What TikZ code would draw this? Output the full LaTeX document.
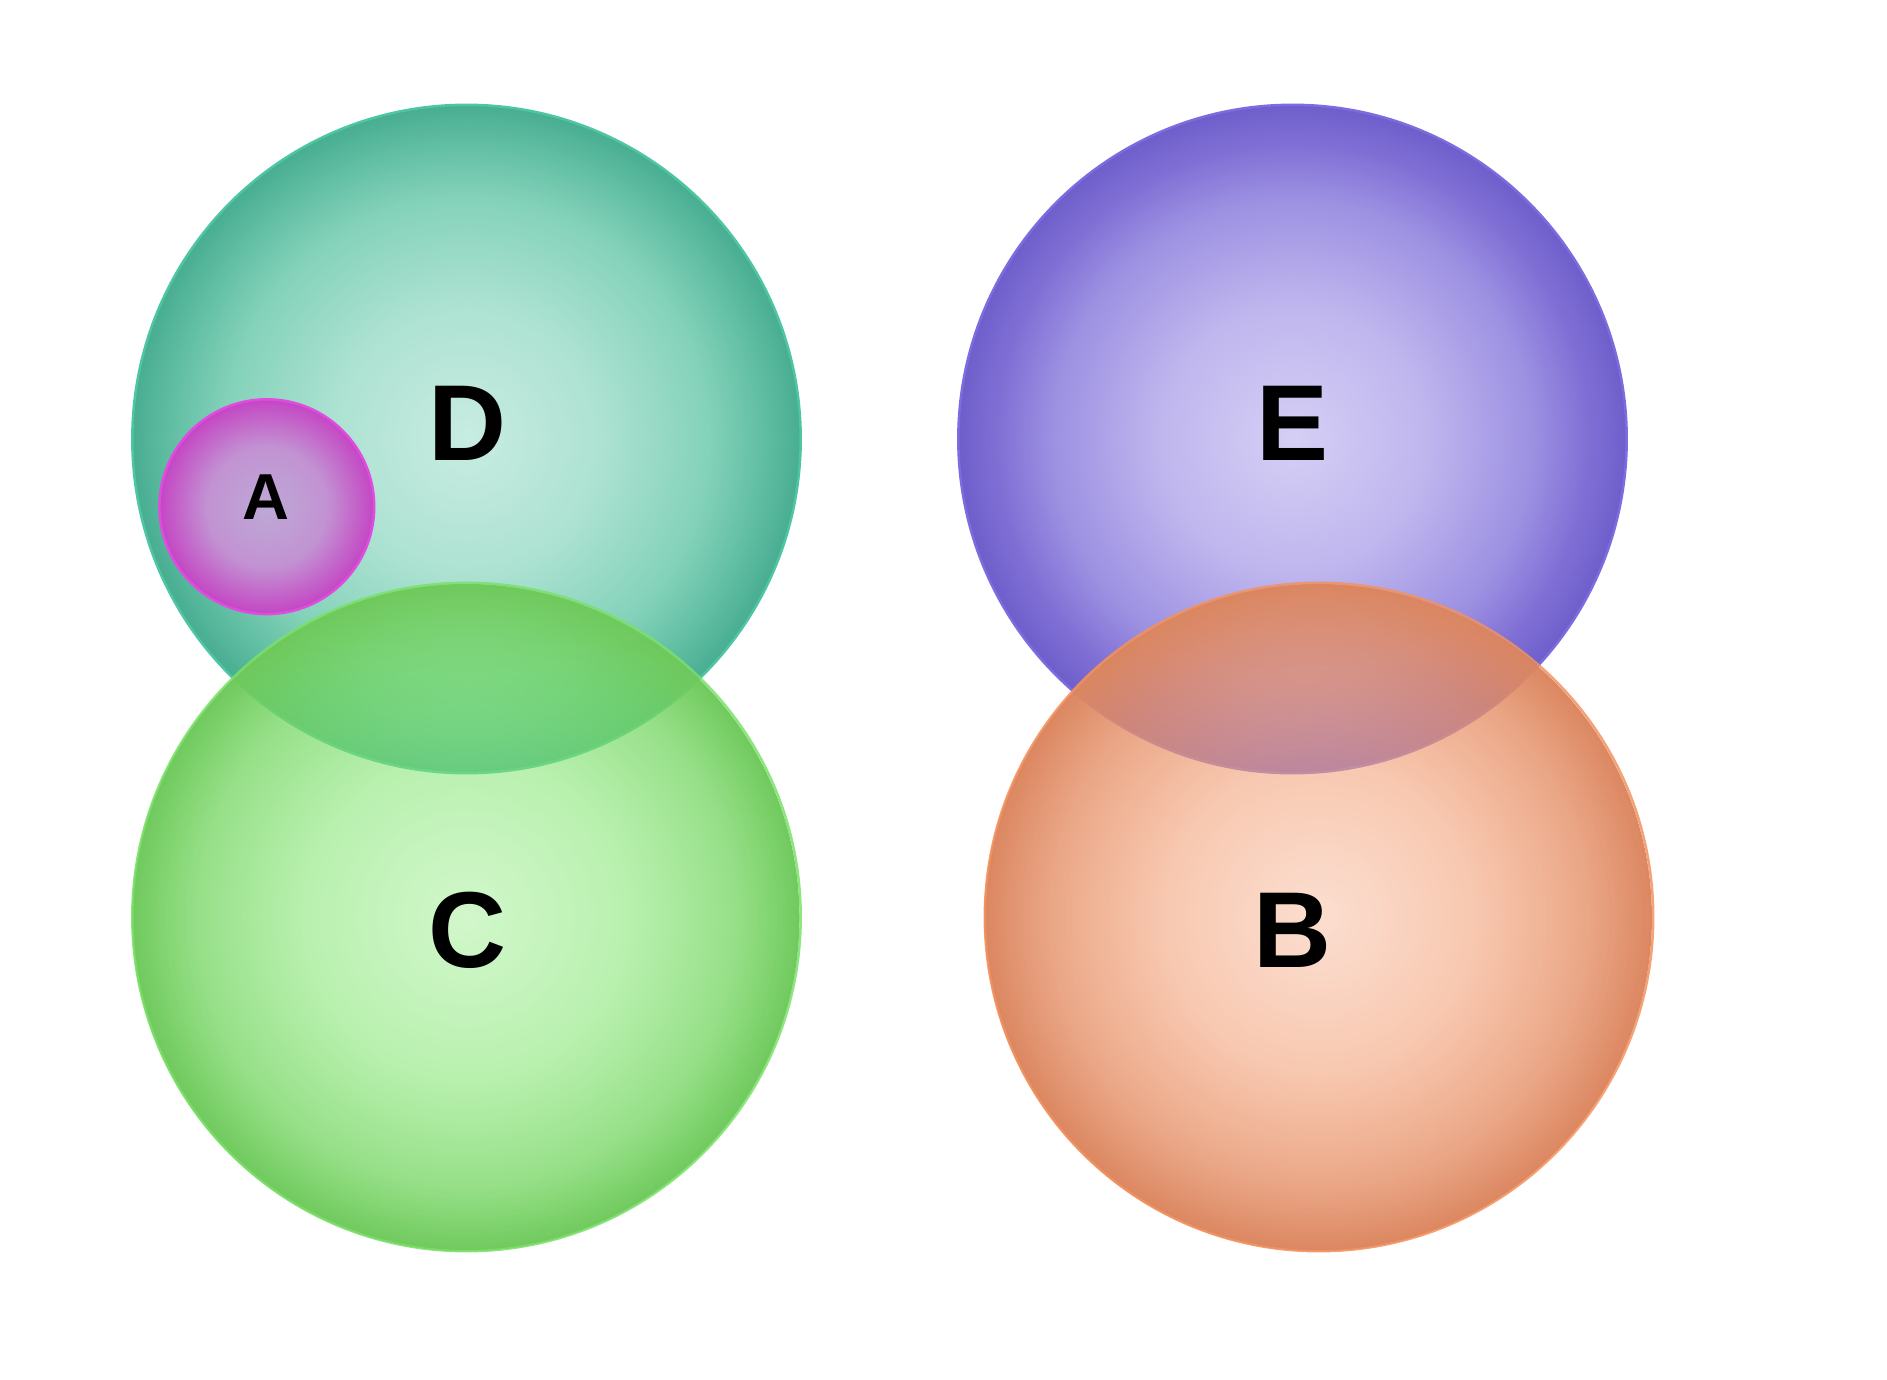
\documentclass[tikz,border=0pt]{standalone}
\usepackage{fontspec}
\setmainfont{Liberation Sans}
\usetikzlibrary{fadings}
\definecolor{dIn}{HTML}{C8ECE2}
\definecolor{dM1}{HTML}{ADE2D2}
\definecolor{dM2}{HTML}{84D2BA}
\definecolor{dM3}{HTML}{62BFA3}
\definecolor{dOut}{HTML}{48AD92}
\definecolor{dLine}{HTML}{4EC6A2}
\definecolor{eIn}{HTML}{D5CFF5}
\definecolor{eM1}{HTML}{BFB6EE}
\definecolor{eM2}{HTML}{9C90E2}
\definecolor{eM3}{HTML}{8070D5}
\definecolor{eOut}{HTML}{6E5ECB}
\definecolor{eLine}{HTML}{7B6CE0}
\definecolor{aIn}{HTML}{BDA9D6}
\definecolor{aM1}{HTML}{C292D2}
\definecolor{aOut}{HTML}{C446C4}
\definecolor{aLine}{HTML}{E04CE0}
\definecolor{cIn}{HTML}{92EC82}
\definecolor{cM1}{HTML}{81E46F}
\definecolor{cM2}{HTML}{76D663}
\definecolor{cOut}{HTML}{6FC95C}
\definecolor{cLine}{HTML}{7BE06A}
\definecolor{bIn}{HTML}{F6B596}
\definecolor{bM1}{HTML}{F3A37B}
\definecolor{bM2}{HTML}{E59068}
\definecolor{bOut}{HTML}{DB8660}
\definecolor{bLine}{HTML}{F2925F}
\pgfdeclareradialshading{dshade}{\pgfpoint{0bp}{0bp}}{color(0bp)=(dIn); color(10bp)=(dM1); color(18bp)=(dM2); color(22bp)=(dM3); color(25bp)=(dOut); color(50bp)=(dOut)}
\pgfdeclareradialshading{eshade}{\pgfpoint{0bp}{0bp}}{color(0bp)=(eIn); color(10bp)=(eM1); color(18bp)=(eM2); color(22bp)=(eM3); color(25bp)=(eOut); color(50bp)=(eOut)}
\pgfdeclareradialshading{ashade}{\pgfpoint{0bp}{0bp}}{color(0bp)=(aIn); color(14bp)=(aM1); color(25bp)=(aOut); color(50bp)=(aOut)}
\pgfdeclareradialshading{cshade}{\pgfpoint{0bp}{0bp}}{color(0bp)=(cIn); color(12bp)=(cM1); color(20bp)=(cM2); color(25bp)=(cOut); color(50bp)=(cOut)}
\pgfdeclareradialshading{bshade}{\pgfpoint{0bp}{0bp}}{color(0bp)=(bIn); color(11.5bp)=(bM1); color(20bp)=(bM2); color(25bp)=(bOut); color(50bp)=(bOut)}
\pgfdeclareradialshading{cfadeshade}{\pgfpoint{0bp}{0bp}}{color(0bp)=(black!58); color(12bp)=(black!44); color(20bp)=(black!24); color(25bp)=(black!0); color(50bp)=(black!0)}
\pgfdeclarefading{cfade}{\pgfuseshading{cfadeshade}}
\pgfdeclareradialshading{bfadeshade}{\pgfpoint{0bp}{0bp}}{color(0bp)=(black!55); color(11.5bp)=(black!40); color(20bp)=(black!20); color(25bp)=(black!0); color(50bp)=(black!0)}
\pgfdeclarefading{bfade}{\pgfuseshading{bfadeshade}}
\tikzset{
  ring/.style={line width=2.5pt},
  lbl/.style={inner sep=0pt, font=\bfseries\fontsize{108}{112}\selectfont},
  smalllbl/.style={inner sep=0pt, font=\bfseries\fontsize{65}{68}\selectfont}
}
\begin{document}
\begin{tikzpicture}[x=1pt,y=-1pt]
\useasboundingbox (0,0) rectangle (1887,1380);
% D
\shade[shading=dshade] (466.5,439) circle (334.2);
\draw[ring, dLine] (466.5,439) circle (334.2);
% E
\shade[shading=eshade] (1292.5,439) circle (334.2);
\draw[ring, eLine] (1292.5,439) circle (334.2);
% A
\shade[shading=ashade] (266.8,506.7) circle (107.4);
\draw[ring, aLine] (266.8,506.7) circle (107.4);
% C
\shade[shading=cshade, path fading=cfade] (466.5,917) circle (334.2);
\draw[ring, cLine, opacity=0.85] (466.5,917) circle (334.2);
% B
\shade[shading=bshade, path fading=bfade] (1319,917) circle (334.2);
\draw[ring, bLine, opacity=0.85] (1319,917) circle (334.2);
% labels
\node[lbl] (labD) at (467,423.7) {D};
\node[lbl] (labE) at (1293,423.5) {E};
\node[lbl] (labC) at (467,930) {C};
\node[lbl] (labB) at (1292,930) {B};
\node[smalllbl] (labA) at (266.3,497.3) {A};
\end{tikzpicture}
\end{document}
